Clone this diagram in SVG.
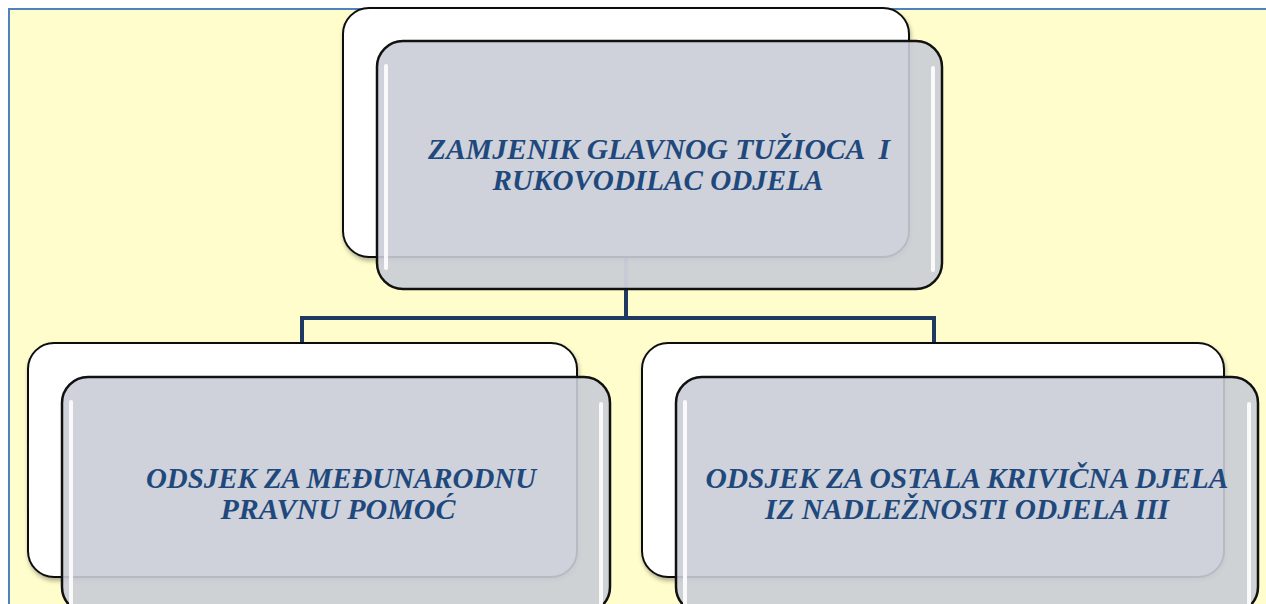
<svg xmlns="http://www.w3.org/2000/svg" width="1266" height="604" viewBox="0 0 1266 604">
<defs>
<style>
.back{fill:#ffffff;stroke:#111;stroke-width:2}
.front{fill:#cacdd6;fill-opacity:0.9;stroke:#111;stroke-width:2.5}
.gloss{stroke:#ffffff;stroke-width:4;stroke-linecap:round;opacity:0.9}
.lbl{font-family:"Liberation Serif","Times New Roman",serif;font-weight:bold;font-style:italic;font-size:29.5px;fill:#1f497d;text-anchor:middle;white-space:pre}
.conn{fill:none;stroke:#1f3a60;stroke-width:4}
</style>
<filter id="sh" x="-5%" y="-5%" width="110%" height="115%"><feDropShadow dx="1" dy="3" stdDeviation="2" flood-color="#000" flood-opacity="0.3"/></filter>
</defs>
<rect x="0" y="0" width="1266" height="604" fill="#ffffff"/>
<rect x="9" y="9" width="1270" height="600" fill="#fffdcc" stroke="#4f81bd" stroke-width="2"/>
<g id="connectors">
<path class="conn" d="M626 289 V318 M302 342 V318 H934 V342"/>
<path d="M626 257 V289" stroke="#aeb8c8" stroke-width="4"/>
</g>
<g id="node-top">
<rect class="back" x="343" y="8" width="566" height="249" rx="26" filter="url(#sh)"/>
<rect class="front" x="377" y="41" width="565" height="248" rx="26"/>
<line class="gloss" x1="386" y1="66" x2="386" y2="268"/>
<line class="gloss" x1="933" y1="68" x2="933" y2="270"/>
<text class="lbl" x="659" y="159" textLength="462" lengthAdjust="spacingAndGlyphs" xml:space="preserve">ZAMJENIK GLAVNOG TUŽIOCA  I</text>
<text class="lbl" x="658" y="189.5" textLength="331" lengthAdjust="spacingAndGlyphs">RUKOVODILAC ODJELA</text>
</g>
<g id="node-left">
<rect class="back" x="28" y="343" width="549" height="234" rx="26" filter="url(#sh)"/>
<rect class="front" x="62" y="377" width="548" height="236" rx="26"/>
<line class="gloss" x1="71" y1="402" x2="71" y2="604"/>
<line class="gloss" x1="601" y1="404" x2="601" y2="604"/>
<text class="lbl" x="341" y="488" textLength="390" lengthAdjust="spacingAndGlyphs">ODSJEK ZA MEĐUNARODNU</text>
<text class="lbl" x="338" y="518.5" textLength="235" lengthAdjust="spacingAndGlyphs">PRAVNU POMOĆ</text>
</g>
<g id="node-right">
<rect class="back" x="642" y="343" width="582" height="234" rx="26" filter="url(#sh)"/>
<rect class="front" x="676" y="377" width="582" height="236" rx="26"/>
<line class="gloss" x1="685" y1="402" x2="685" y2="604"/>
<line class="gloss" x1="1249" y1="404" x2="1249" y2="604"/>
<text class="lbl" x="967" y="488" textLength="523" lengthAdjust="spacingAndGlyphs">ODSJEK ZA OSTALA KRIVIČNA DJELA</text>
<text class="lbl" x="967" y="518.5" textLength="404" lengthAdjust="spacingAndGlyphs">IZ NADLEŽNOSTI ODJELA III</text>
</g>
</svg>
